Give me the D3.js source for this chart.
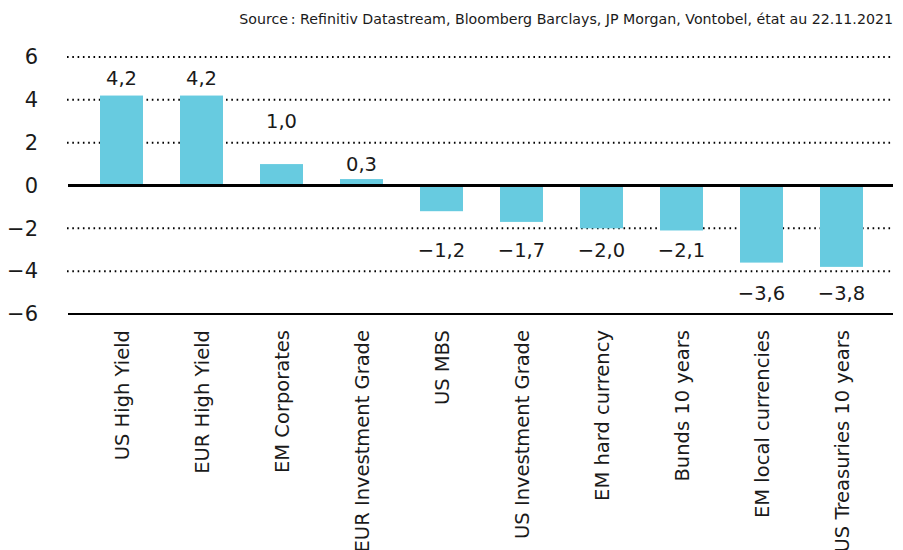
<!DOCTYPE html>
<html>
<head>
    <meta charset="utf-8">
    <script src="https://cdnjs.cloudflare.com/ajax/libs/d3/7.8.5/d3.min.js"></script>
    <style>
        body { margin: 0; background: #fff; }
        text { font-family: "DejaVu Sans", Verdana, sans-serif; fill: #1a1a1a; }
        .grid line { stroke: #000; stroke-width: 2; stroke-dasharray: 1.6,3.7; }
        .bar { fill: #67cbe0; }
    </style>
</head>
<body>
    <div id="chart"></div>
    <script>
        const categories = ["US High Yield", "EUR High Yield", "EM Corporates", "EUR Investment Grade", "US MBS",
            "US Investment Grade", "EM hard currency", "Bunds 10 years", "EM local currencies", "US Treasuries 10 years"];
        const values = [4.2, 4.2, 1.0, 0.3, -1.2, -1.7, -2.0, -2.1, -3.6, -3.8];
        const yTicks = [6, 4, 2, 0, -2, -4, -6];
        const source = "Source\u202F: Refinitiv Datastream, Bloomberg Barclays, JP Morgan, Vontobel, état au 22.11.2021";

        const width = 903, height = 550;
        const plotLeft = 68, plotRight = 893, plotTop = 57, plotBottom = 314;

        const svg = d3.select("#chart").append("svg").attr("width", width).attr("height", height);

        const fmt = d3.formatLocale({ decimal: ",", thousands: " ", grouping: [3], currency: ["", ""], minus: "\u2212" });
        const fmtVal = fmt.format(".1f");
        const fmtTick = fmt.format("d");

        const x = d3.scaleBand().domain(categories).range([81.5, 881.5])
            .paddingInner(0.4625).paddingOuter(0.23125);
        const y = d3.scaleLinear().domain([-6, 6]).range([plotBottom, plotTop]);

        // dotted gridlines
        svg.append("g").attr("class", "grid")
            .selectAll("line")
            .data(yTicks.filter(d => d !== 0 && d !== -6))
            .enter().append("line")
            .attr("x1", plotLeft - 1).attr("x2", plotRight)
            .attr("y1", d => y(d)).attr("y2", d => y(d));

        // bottom line at -6
        svg.append("line")
            .attr("x1", plotLeft).attr("x2", plotRight)
            .attr("y1", y(-6)).attr("y2", y(-6))
            .attr("stroke", "#000").attr("stroke-width", 2);

        svg.append("g")
            .selectAll("rect")
            .data(values)
            .enter().append("rect")
            .attr("class", "bar")
            .attr("x", (d, i) => x(categories[i]))
            .attr("width", x.bandwidth())
            .attr("y", d => y(Math.max(0, d)))
            .attr("height", d => Math.abs(y(d) - y(0)));

        // zero line
        svg.append("line")
            .attr("x1", plotLeft).attr("x2", plotRight)
            .attr("y1", y(0)).attr("y2", y(0))
            .attr("stroke", "#000").attr("stroke-width", 3);

        // value labels sit centred on the next odd value beyond the bar end
        function labelPos(v) {
            let n;
            if (v > 0) { n = Math.floor(v) + 1; if (n % 2 === 0) n += 1; }
            else { n = Math.ceil(v) - 1; if (n % 2 === 0) n -= 1; }
            return n;
        }

        svg.append("g")
            .selectAll("text")
            .data(values)
            .enter().append("text")
            .attr("x", (d, i) => x(categories[i]) + x.bandwidth() / 2)
            .attr("y", d => y(labelPos(d)))
            .attr("dy", "0.36em")
            .attr("text-anchor", "middle")
            .style("font-size", "19.5px")
            .text(d => fmtVal(d));

        // y axis
        const yAxis = svg.append("g")
            .attr("transform", `translate(${plotLeft},0)`)
            .call(d3.axisLeft(y).tickValues(yTicks).tickFormat(fmtTick).tickSize(0).tickPadding(30));
        yAxis.select(".domain").remove();
        yAxis.selectAll("text")
            .style("font-size", "21px")
            .attr("fill", "#1a1a1a");

        // x axis with rotated labels (long ones run off the bottom, as in the original)
        const xAxis = svg.append("g")
            .attr("transform", `translate(0,${plotBottom})`)
            .call(d3.axisBottom(x).tickSize(0));
        xAxis.select(".domain").remove();
        xAxis.selectAll("text")
            .attr("transform", "rotate(-90)")
            .attr("text-anchor", "end")
            .attr("x", -16)
            .attr("y", 0)
            .attr("dy", "0.36em")
            .style("font-size", "19.5px")
            .attr("fill", "#1a1a1a");

        svg.append("text")
            .attr("x", plotRight)
            .attr("y", 24)
            .attr("text-anchor", "end")
            .style("font-size", "14.2px")
            .text(source);
    </script>
</body>
</html>
